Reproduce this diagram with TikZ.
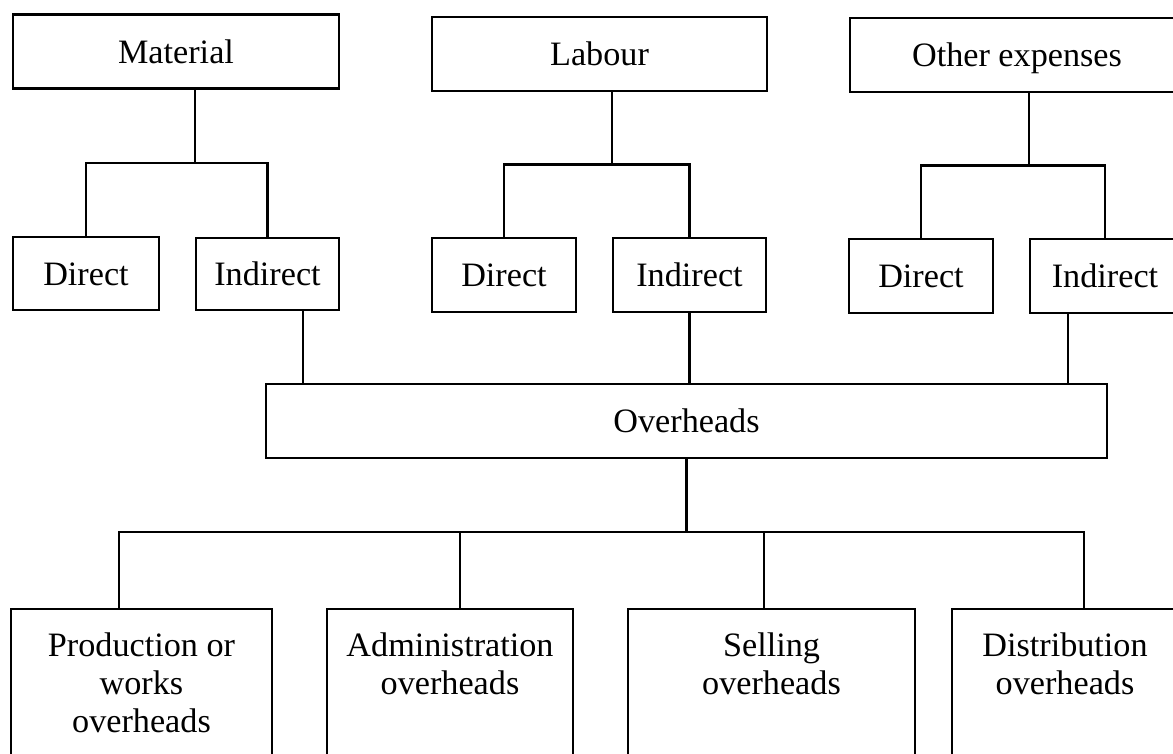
\documentclass[tikz,border=0pt]{standalone}
\usepackage{fontspec}
\setmainfont{Liberation Serif}
\usetikzlibrary{calc}

\begin{document}
\begin{tikzpicture}[x=1pt,y=-1pt,line width=2.2pt,
  box/.style={draw,line width=2.2pt,inner sep=0pt,minimum height=74pt,text height=23.4pt,text depth=0pt,font=\fontsize{34.2}{38}\selectfont},
  tallbox/.style={draw,line width=2.2pt,minimum height=170pt,anchor=north},
  boxtext/.style={inner sep=0pt,align=center,anchor=north,font=\fontsize{34.2}{38}\selectfont}]
\useasboundingbox (0,0) rectangle (1173,753);
\clip (0,0) rectangle (1173,753);
\node[box,minimum width=326pt] (mat) at (176,51.5) {Material};
\node[box,minimum width=335pt] (lab) at (599.5,54) {Labour};
\node[box,minimum width=334pt] (oth) at (1017,55) {Other expenses};
\node[box,minimum width=146pt,minimum height=73pt] (matdir) at (86,273.5) {Direct};
\node[box,minimum width=143pt,minimum height=72pt] (matind) at (267.5,274) {Indirect};
\node[box,minimum width=144pt] (labdir) at (504,275) {Direct};
\node[box,minimum width=153pt] (labind) at (689.5,275) {Indirect};
\node[box,minimum width=144pt] (othdir) at (921,276) {Direct};
\node[box,minimum width=150pt] (othind) at (1105,276) {Indirect};
\node[box,minimum width=841pt] (ovh) at (686.5,421) {Overheads};
\node[tallbox,minimum width=261pt] (prod) at (141.5,608) {};
\node[tallbox,minimum width=246pt] (adm) at (450,608) {};
\node[tallbox,minimum width=287pt] (sell) at (771.5,608) {};
\node[tallbox,minimum width=226pt] (dist) at (1065,608) {};
\node[boxtext] (prodtxt) at ([yshift=-24pt]prod.north) {Production or\\works\\overheads};
\node[boxtext] (admtxt) at ([yshift=-24pt]adm.north) {Administration\\overheads};
\node[boxtext] (selltxt) at ([yshift=-24pt]sell.north) {Selling\\overheads};
\node[boxtext] (disttxt) at ([yshift=-24pt]dist.north) {Distribution\\overheads};
\coordinate (matfork) at ($(mat.south -| matind.west)!.5!(matind.north west)$);
\coordinate (labfork) at ($(lab.south -| labind.west)!.5!(labind.north west)$);
\coordinate (othfork) at ($(oth.south -| othind.west)!.5!(othind.north west)$);
\draw (mat.south -| matfork) -- (matfork);
\draw (matdir.north) |- (matfork) -| (matind.north);
\draw (lab.south -| labfork) -- (labfork);
\draw (labdir.north) |- (labfork) -| (labind.north);
\draw (oth.south -| othfork) -- (othfork);
\draw (othdir.north) |- (othfork) -| (othind.north);
\coordinate (matdrop) at ([xshift=35.5pt]matind.south);
\coordinate (othdrop) at ([xshift=-37pt]othind.south);
\draw (matdrop) -- (matdrop |- ovh.north);
\draw (labind.south) -- (labind.south |- ovh.north);
\draw (othdrop) -- (othdrop |- ovh.north);
\coordinate (bar1) at (119,532);
\coordinate (bar2) at (460,532);
\coordinate (bar3) at (764,532);
\coordinate (bar4) at (1084,532);
\draw (ovh.south) -- (ovh.south |- bar1);
\draw (prod.north -| bar1) -- (bar1) -- (bar4) -- (dist.north -| bar4);
\draw (bar2) -- (adm.north -| bar2);
\draw (bar3) -- (sell.north -| bar3);
\end{tikzpicture}
\end{document}
